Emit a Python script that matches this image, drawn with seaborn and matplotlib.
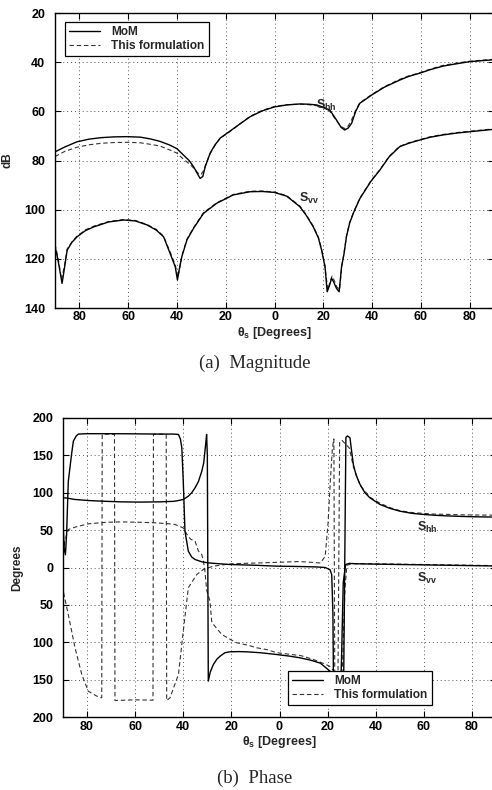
import numpy as np
import pandas as pd
import matplotlib
matplotlib.use("Agg")
import matplotlib.pyplot as plt
import seaborn as sns
from matplotlib.lines import Line2D

# ---------------- data ----------------
x_ticks = [-80, -60, -40, -20, 0, 20, 40, 60, 80]
x_tick_labels = ["80", "60", "40", "20", "0", "20", "40", "60", "80"]
mag_ticks = [-140, -120, -100, -80, -60, -40, -20]
mag_tick_labels = ["140", "120", "100", "80", "60", "40", "20"]
phase_ticks = [-200, -150, -100, -50, 0, 50, 100, 150, 200]
phase_tick_labels = ["200", "150", "100", "50", "0", "50", "100", "150", "200"]
legend_labels = ["MoM", "This formulation"]

# (a) magnitude, dB
mag_hh_mom_x = [-90, -86, -81, -76, -71, -66, -60.5, -55, -51, -47, -43, -40, -37.3, -35, -33.2, -31.8,
                -30.5, -29.4, -28.4, -27.3, -26.4, -24.5, -22.3, -18.2, -14, -10, -5, 0, 5, 10.4, 14,
                17.3, 20, 22.7, 25.4, 27.3, 28.8, 30.2, 31.6, 33.3, 35, 37.5, 39.8, 45, 51.3, 55, 59.5,
                64, 69.1, 75, 80, 85, 90]
mag_hh_mom_y = [-76.5, -74.5, -72.4, -71.3, -70.7, -70.4, -70.3, -70.5, -71.2, -72.2, -73.7, -75.2, -77.8,
                -80.0, -82.5, -85.0, -87.3, -86.5, -82.5, -79.5, -77.0, -73.8, -70.9, -68.0, -65.0, -62.2,
                -59.8, -58.2, -57.4, -57.0, -57.1, -57.4, -58.3, -59.5, -63.5, -66.5, -67.6, -66.8, -64.9,
                -60.0, -56.7, -55.0, -53.4, -50.2, -47.3, -45.8, -44.5, -43.0, -41.6, -40.6, -39.8, -39.4,
                -39.0]
mag_hh_fm_x = [-90, -86, -81, -76, -71, -66, -60.5, -55, -51, -47, -43, -40, -37.3, -35, -33.2, -31.5,
               -30.2, -29, -28, -26.4, -24.5, -22.3, -18.2, -14, -10, -5, 0, 5, 10.4, 14, 17.3, 20, 22.7,
               25.4, 27.3, 28.8, 30.2, 31.6, 33.3, 35, 37.5, 39.8, 45, 51.3, 55, 59.5, 64, 69.1, 75, 80,
               85, 90]
mag_hh_fm_y = [-78.4, -76.3, -74.6, -73.6, -73.0, -72.7, -72.6, -72.8, -73.4, -74.1, -75.7, -77.0, -79.5,
               -81.3, -83.0, -85.0, -85.8, -84.0, -81.0, -77.3, -74.0, -71.0, -68.2, -65.0, -62.0, -59.6,
               -58.0, -57.3, -57.1, -57.3, -57.7, -58.6, -60.0, -63.8, -66.2, -67.0, -66.0, -63.5, -59.5,
               -56.5, -54.8, -53.2, -50.0, -47.0, -45.6, -44.3, -42.8, -41.3, -40.3, -39.6, -39.2, -38.8]
mag_vv_mom_x = [-90, -89.2, -88.5, -87.1, -86, -85, -83, -80.9, -77.5, -74.1, -68, -61.9, -57, -52.3,
                -48.5, -45.5, -42.8, -40.7, -39.8, -39, -38, -35.9, -33.2, -29.1, -23.7, -16.9, -10, -5, 0,
                5, 10.4, 13, 15.9, 18, 19.3, 20.7, 21.6, 22.5, 23.4, 24.3, 25.4, 26.5, 27.5, 28.5, 29.5,
                30.8, 32.5, 35, 39.5, 43.2, 47, 51.3, 55, 59.5, 64, 69.1, 75, 80, 85, 90]
mag_vv_mom_y = [-115, -118.5, -122, -130, -123, -116.4, -113.2, -111, -108.5, -107, -105, -104.2, -104.6,
                -106.2, -108.3, -111, -117.8, -123.2, -128.6, -124, -119.1, -112.3, -107.6, -101.5, -97.4,
                -94, -92.7, -92.6, -93.0, -94.5, -98.8, -102.3, -107, -111.5, -116.4, -123.2, -133.4, -131,
                -127.9, -129.5, -132, -133.4, -123.2, -118, -111, -105.5, -101, -95.5, -88.5, -83.9, -78.5,
                -74.4, -73, -71.7, -70.5, -69.6, -68.8, -68.3, -67.8, -67.3]
mag_vv_fm_x = [-90, -89.2, -88.5, -87.3, -86, -85, -83, -80.9, -77.5, -74.1, -68, -61.9, -57, -52.3,
               -48.5, -45.5, -42.8, -40.7, -39.6, -38.8, -38, -35.9, -33.2, -29.1, -23.7, -16.9, -10, -5, 0,
               5, 10.4, 13, 15.9, 18, 19.3, 20.7, 21.8, 22.6, 23.6, 24.5, 25.6, 26.7, 27.6, 28.5, 29.5,
               30.8, 32.5, 35, 39.5, 43.2, 47, 51.3, 55, 59.5, 64, 69.1, 75, 80, 85, 90]
mag_vv_fm_y = [-114, -117.5, -121, -128.5, -122, -116, -113, -110.7, -108.2, -106.7, -104.8, -104, -104.4,
               -106, -108, -110.8, -117.2, -122.5, -127.5, -123.5, -118.8, -112, -107.3, -101.2, -97.2,
               -93.8, -92.5, -92.4, -92.8, -94.3, -98.5, -102, -106.7, -111.2, -116, -122.8, -132.5, -130,
               -127, -128.8, -131.5, -132.5, -122.8, -117.6, -110.7, -105.2, -100.8, -95.3, -88.3, -83.7,
               -78.3, -74.2, -72.8, -71.5, -70.3, -69.4, -68.6, -68.1, -67.6, -67.1]

# (b) phase, degrees
ph_hh_mom_x = [-90, -89, -85, -79.5, -72, -65.6, -58, -50, -44, -42, -40, -37.9, -36.5, -35.1, -33.7,
               -32.3, -31.5, -31, -30.6, -30.3, -30.0, -29.6, -28.8, -27.5, -26.0, -24.7, -22.7, -20.6,
               -17, -13.6, -8, -1.2, 4, 8.5, 13, 17, 21, 23, 24.5, 25.8, 26.6, 27.6, 28.3, 29.3, 29.8,
               30.7, 31.8, 33.5, 35.5, 37.6, 41.8, 46, 50.1, 55, 59, 63.9, 70, 76, 82, 88.2, 90]
ph_hh_mom_y = [93, 93.2, 91, 89.6, 88.5, 87.8, 87.5, 87.8, 88.5, 89.6, 91, 95.4, 100, 106.6, 115, 128.8,
               140, 155.6, 168, 178, 150, -152, -140, -129.8, -122.5, -118.7, -114, -112.8, -112.5,
               -112.8, -114, -116.4, -118.5, -120.8, -124, -128, -138.7, -146, -155, -170, -179, 174,
               176, 173.5, 160, 137.8, 124, 111, 100, 93.2, 84.3, 79, 75.3, 72.5, 71.2, 70, 69, 68.3,
               67.8, 67.5, 67.4]
ph_hh_fm_x = [-90, -89.3, -87.8, -85, -79.5, -72, -65.6, -58, -51.7, -46, -43.4, -40, -38.6, -37,
              -35.1, -33.7, -32.3, -31.6, -31, -30.3, -28.9, -28.2, -27.5, -24, -20, -17.8, -13, -9.5,
              -5, -1.2, 4, 9, 14, 18, 20.8, 22.5, 23.8, 24.3, 25, 26, 27.5, 29, 30.7, 33.5, 37.6, 41.8,
              46, 50.1, 55, 63.9, 70, 76, 82, 90]
ph_hh_fm_y = [10, 35, 50.8, 54, 58.4, 60.5, 61, 60.5, 59.8, 58.5, 57.5, 53, 45, 38, 35.2, 22, 17.4, 8,
              -5, -30, -45, -72, -76, -89.6, -97, -100.7, -104, -107.4, -110, -114, -116, -118, -123,
              -128, -132, -138, -144, -150, 168, 170, 165, 160, 135, 110, 94, 86, 80, 76, 73.5, 71.5,
              71, 70.5, 70.2, 70]
ph_vv_mom_x = [-90, -89.5, -89, -88.5, -87.8, -86.5, -85.7, -84.5, -83.6, -80, -70, -60, -50, -44, -42,
               -41.2, -40.6, -40, -39.3, -37.9, -36.5, -35.1, -32.3, -29.6, -25, -20.6, -10, -1.2, 5, 10,
               15, 19, 21, 21.7, 22.2, 22.5, 23.5, 24.5, 25.3, 25.8, 26.5, 27.5, 29, 32, 40, 50, 60, 70,
               80, 90]
ph_vv_mom_y = [60, 25, 17, 45, 115, 150, 169, 176, 178.5, 179, 179, 178.8, 178.5, 178.5, 178, 172, 160,
               115, 48.6, 21.8, 14, 10.7, 7.6, 6.2, 5, 4, 3, 1.8, 1.5, 1.2, 0.8, 0, -3, -9.4, -60, -178,
               -179, -179, -178, -120, -20, 4, 5.5, 5, 4.5, 4, 3.5, 3, 2.5, 2]
ph_vv_fm_x = [-90, -89.9, -87.8, -85, -82.2, -79.5, -76, -73.9, -73.7, -71, -68.6, -68.4, -60, -52.6,
              -52.4, -49.5, -47.1, -46.9, -45.5, -42, -40, -37.9, -34.4, -31.7, -27.5, -20, -10, 0, 8, 13,
              17, 19, 20.2, 21.2, 22, 22.6, 23, 25.5, 26.3, 27.2, 28, 30, 40, 50, 60, 70, 80, 90]
ph_vv_fm_y = [5, -31.7, -63, -107.4, -143, -165.5, -172, -174.3, 178, 178.5, 178, -178, -177, -177.5,
              178, 178.5, 178, -178, -174.3, -143, -85, -27, -9.4, -2.7, 1.8, 5, 6, 7, 8, 7, 6, 15, 60,
              120, 160, 172, -170, -176, -120, -30, 3, 5, 5, 4.5, 4, 3.5, 3, 2.5]

# ---------------- style ----------------
sns.set_style("ticks")
plt.rcParams["font.family"] = ["Liberation Sans", "DejaVu Sans"]
plt.rcParams["mathtext.fontset"] = "custom"
plt.rcParams["mathtext.bf"] = "Liberation Sans:bold"
plt.rcParams["mathtext.rm"] = "Liberation Sans"
plt.rcParams["mathtext.it"] = "Liberation Sans:italic"

W, H = 492, 790
fig = plt.figure(figsize=(W / 100, H / 100), dpi=100)
ax1 = fig.add_axes([55 / W, 1 - 308 / H, 439 / W, 295 / H])
ax2 = fig.add_axes([63 / W, 1 - 717 / H, 433 / W, 299 / H])

SOLID = dict(color="black", lw=1.0)
DASH = dict(color="#333333", lw=0.8, linestyle=(0, (4, 2.5)))


def draw(ax, xs, ys, style):
    df = pd.DataFrame({"theta": xs, "value": ys})
    sns.lineplot(data=df, x="theta", y="value", ax=ax, sort=False, estimator=None,
                 legend=False, **style)


draw(ax1, mag_hh_fm_x, mag_hh_fm_y, DASH)
draw(ax1, mag_vv_fm_x, mag_vv_fm_y, DASH)
draw(ax1, mag_hh_mom_x, mag_hh_mom_y, SOLID)
draw(ax1, mag_vv_mom_x, mag_vv_mom_y, SOLID)

draw(ax2, ph_hh_fm_x, ph_hh_fm_y, DASH)
draw(ax2, ph_vv_fm_x, ph_vv_fm_y, DASH)
draw(ax2, ph_hh_mom_x, ph_hh_mom_y, SOLID)
draw(ax2, ph_vv_mom_x, ph_vv_mom_y, SOLID)

TICKFONT = dict(fontsize=9, fontweight="bold")


def style_axes(ax, yticks, ylabels, ylim, ylabel, ylab_x, xlab_y, pad_x):
    ax.set_xlim(-90, 90)
    ax.set_ylim(*ylim)
    ax.set_xticks(x_ticks)
    ax.set_xticklabels(x_tick_labels, **TICKFONT)
    ax.set_yticks(yticks)
    ax.set_yticklabels(ylabels, **TICKFONT)
    ax.grid(True, color="#555555", lw=0.7, linestyle=(0, (1, 3)))
    ax.tick_params(direction="in", length=4, width=0.8, top=True, right=True, colors="black")
    ax.tick_params(axis="x", pad=pad_x)
    ax.tick_params(axis="y", pad=7)
    for s in ax.spines.values():
        s.set_visible(True)
        s.set_linewidth(1.0)
        s.set_color("black")
    ax.set_xlabel(r"$\mathbf{\theta_s}$ [Degrees]", fontsize=9, fontweight="bold")
    ax.xaxis.set_label_coords(0.5, xlab_y)
    ax.set_ylabel(ylabel, fontsize=8.5, fontweight="bold")
    ax.yaxis.set_label_coords(ylab_x, 0.5)


style_axes(ax1, mag_ticks, mag_tick_labels, (-140, -20), "dB", -0.095, -0.058, 2.5)
style_axes(ax2, phase_ticks, phase_tick_labels, (-200, 200), "Degrees", -0.092, -0.058, 3)

handles = [Line2D([], [], **SOLID), Line2D([], [], **DASH)]
LEG = dict(loc="upper left", borderaxespad=0, fancybox=False, framealpha=1, edgecolor="black",
           handlelength=2.6, handletextpad=0.9, labelspacing=0.15, borderpad=0.35,
           prop=dict(size=8.6, weight="bold"))
l1 = ax1.legend(handles, legend_labels, bbox_to_anchor=(0.023, 0.969), **LEG)
l2 = ax2.legend(handles, legend_labels, bbox_to_anchor=(0.52, 0.154), **LEG)
for lg in (l1, l2):
    lg.get_frame().set_linewidth(0.9)

ax1.text(17, -57.5, r"$\mathbf{S_{hh}}$", fontsize=9, ha="left", va="center")
ax1.text(10, -95.5, r"$\mathbf{S_{vv}}$", fontsize=9, ha="left", va="center")
ax2.text(57, 53, r"$\mathbf{S_{hh}}$", fontsize=9, ha="left", va="center")
ax2.text(57, -15, r"$\mathbf{S_{vv}}$", fontsize=9, ha="left", va="center")

SERIF = dict(family=["Liberation Serif", "DejaVu Serif"], fontsize=13.5, ha="center", va="center")
fig.text(255 / W, 1 - 363 / H, "(a)  Magnitude", **SERIF)
fig.text(255 / W, 1 - 778 / H, "(b)  Phase", **SERIF)

fig.savefig("out.png", dpi=100, facecolor="white")
